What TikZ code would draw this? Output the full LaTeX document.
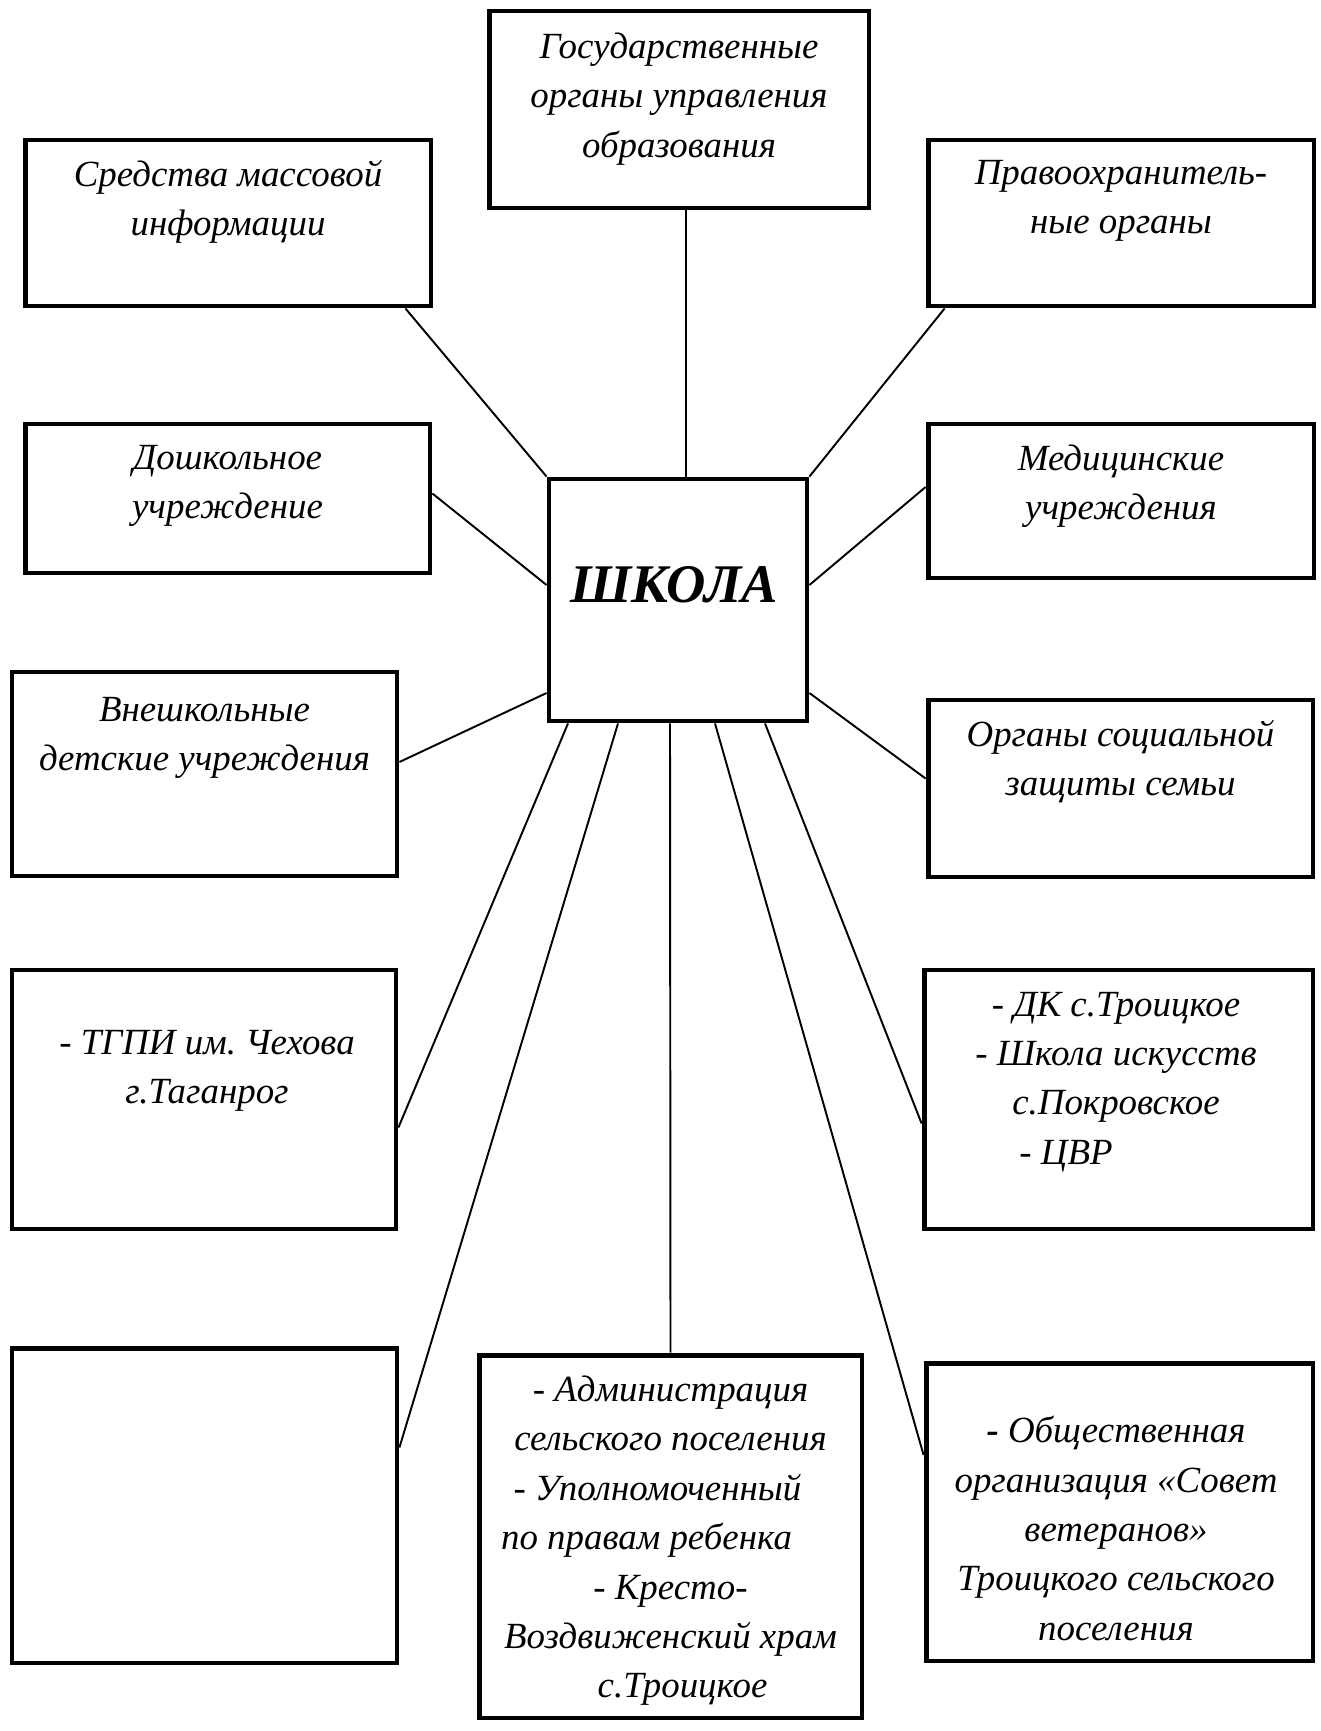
\documentclass[tikz,border=0pt]{standalone}
\usepackage{fontspec}
\setmainfont{Liberation Serif}
\usetikzlibrary{positioning,calc}
\tikzset{
  box/.style = {draw, line width=2.8pt, inner sep=0pt},
  txt/.style = {inner sep=0pt, align=center,
    font=\fontsize{21pt}{28.1pt}\selectfont\itshape},
  link/.style = {line width=1.1pt}
}

\begin{document}
\begin{tikzpicture}[x=0.02cm,y=-0.02cm]
  \useasboundingbox (0,0) rectangle (1320,1731);

  \node[box,minimum width=7.6cm,minimum height=3.94cm] (gov) at (679,109.5) {};
  \node[box,minimum width=8.12cm,minimum height=3.32cm] (smi) at (228,223) {};
  \node[box,minimum width=7.72cm,minimum height=3.32cm] (law) at (1121,223) {};
  \node[box,minimum width=8.1cm,minimum height=2.98cm] (presch) at (227.5,498.5) {};
  \node[box,minimum width=7.72cm,minimum height=3.08cm] (med) at (1121,501) {};
  \node[box,minimum width=5.16cm,minimum height=4.84cm] (school) at (678,600) {};
  \node[box,minimum width=7.7cm,minimum height=4.08cm] (extra) at (204.5,774) {};
  \node[box,minimum width=7.7cm,minimum height=3.54cm] (social) at (1120.5,788.5) {};
  \node[box,minimum width=7.68cm,minimum height=5.18cm] (tgpi) at (204,1099.5) {};
  \node[box,minimum width=7.78cm,minimum height=5.18cm] (culture) at (1118.5,1099.5) {};
  \node[box,minimum width=7.7cm,minimum height=6.3cm] (blank) at (204.5,1505.5) {};
  \node[box,minimum width=7.66cm,minimum height=7.26cm] (admin) at (670.5,1536.5) {};
  \node[box,minimum width=7.74cm,minimum height=5.96cm] (veterans) at (1119.5,1512) {};

  \node[txt,below=0.48cm of gov.north] (gov-txt) {Государственные\\органы управления\\образования};
  \node[txt,below=0.44cm of smi.north] (smi-txt) {Средства массовой\\информации};
  \node[txt,below=0.44cm of law.north] (law-txt) {Правоохранитель-\\ные органы};
  \node[txt,below=0.46cm of presch.north] (presch-txt) {Дошкольное\\учреждение};
  \node[txt,below=0.45cm of med.north] (med-txt) {Медицинские\\учреждения};
  \node[inner sep=0pt,font=\fontsize{31pt}{36pt}\selectfont\bfseries\itshape,
    below=1.8cm of school.north,xshift=-0.08cm] (school-txt) {ШКОЛА};
  \node[txt,below=0.55cm of extra.north] (extra-txt) {Внешкольные\\детские учреждения};
  \node[txt,below=0.44cm of social.north] (social-txt) {Органы социальной\\защиты семьи};
  \node[txt,below=1.24cm of tgpi.north,xshift=0.06cm] (tgpi-txt) {- ТГПИ им.\ Чехова\\г.Таганрог};
  \node[txt,below=0.48cm of culture.north,xshift=-0.05cm] (culture-txt)
    {- ДК с.Троицкое\\- Школа искусств\\с.Покровское\\- ЦВР\hspace*{2cm}};
  \node[txt,below=0.46cm of admin.north] (admin-txt)
    {- Администрация\\сельского поселения\\- Уполномоченный\hspace*{0.52cm}\mbox{}\\по правам ребенка\hspace*{0.96cm}\mbox{}\\- Кресто-\\Воздвиженский храм\\\hspace*{0.48cm}с.Троицкое};
  \node[txt,below=1.11cm of veterans.north,xshift=-0.07cm] (veterans-txt)
    {{\bfseries -} Общественная\\организация «Совет\\ветеранов»\\Троицкого сельского\\поселения};

  \draw[link] ($(school.north)+(8,0)$) -- ($(gov.south)+(7,0)$);
  \draw[link] (school.north west) -- ($(smi.south east)+(-28,0)$);
  \draw[link] (school.north east) -- ($(law.south west)+(19,0)$);
  \draw[link] ($(school.west)+(0,-15)$) -- ($(presch.east)+(0,-5)$);
  \draw[link] ($(school.east)+(0,-15)$) -- ($(med.west)+(0,-14)$);
  \draw[link] ($(school.west)+(0,93)$) -- ($(extra.east)+(0,-12)$);
  \draw[link] ($(school.east)+(0,93)$) -- ($(social.west)+(0,-10)$);
  \draw[link] ($(school.south)+(-110,0)$) -- ($(tgpi.east)+(0,28)$);
  \draw[link] ($(school.south)+(-60,0)$) -- ($(blank.east)+(0,-58)$);
  \draw[link] ($(school.south)+(-8,0)$) -- (admin.north);
  \draw[link] ($(school.south)+(37,0)$) -- ($(veterans.west)+(0,-57)$);
  \draw[link] ($(school.south)+(87,0)$) -- ($(culture.west)+(0,24)$);
\end{tikzpicture}
\end{document}
